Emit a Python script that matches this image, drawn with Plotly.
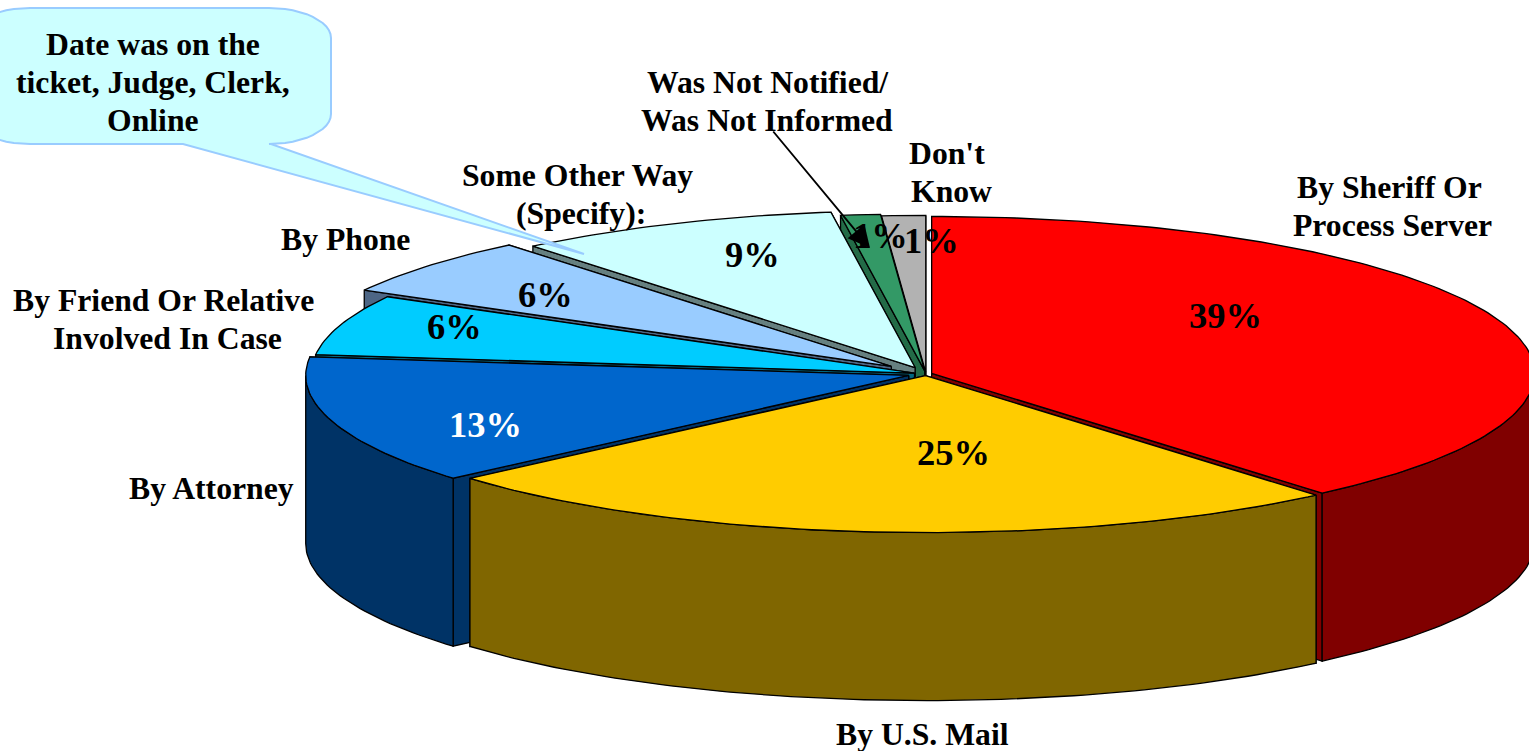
import math
import plotly.graph_objects as go

# ---- data (clockwise from 12 o'clock) ----
categories = ["By Sheriff Or Process Server", "By U.S. Mail", "By Attorney",
              "By Friend Or Relative Involved In Case", "By Phone",
              "Some Other Way (Specify):", "Was Not Notified/Was Not Informed", "Don't Know"]
shares = [38.8, 24.85, 13.25, 6.2, 6.0, 8.7, 1.06, 1.17]

# ---- styles ----
top_colors = ["#FF0000", "#FFCC00", "#0066CC", "#00CCFF", "#99CCFF", "#CCFFFF", "#339966", "#B2B2B2"]
wall_colors = ["#800000", "#806600", "#003366", "#006680", "#4D6685", "#668080", "#236B47", "#595959"]
explode = [0.01, 0.01, 0.03, 0.02, 0.075, 0.045, 0.02, 0.01]
pct_colors = ["black", "black", "white", "black", "black", "black", "black", "black"]
pct_pos = [(1225, 315), (953, 452), (485, 424), (454, 326), (545, 294), (752, 254), (880, 235), (931, 240)]

label_lines = [
    ("By Sheriff Or", 1389, 187), ("Process Server", 1392, 225),
    ("By U.S. Mail", 922, 734),
    ("By Attorney", 211, 488),
    ("By Friend Or Relative", 163, 300), ("Involved In Case", 167, 338),
    ("By Phone", 345, 239),
    ("Some Other Way", 577, 175), ("(Specify):", 581, 213),
    ("Was Not Notified/", 768, 82), ("Was Not Informed", 767, 120),
    ("Don't", 947, 153), ("Know", 951, 191),
]
callout_lines = [("Date was on the", 153, 44), ("ticket, Judge, Clerk,", 153, 82), ("Online", 153, 120)]

CX, CY, RX, RY, DEPTH = 926, 374, 603, 157, 168
FONT = "Liberation Serif"
LBL = 31.7
PCT = 36.5
EDGE = 1.3

total = sum(shares)
fig = go.Figure()


def poly(xs, ys, fill, line="black", width=EDGE):
    fig.add_trace(go.Scatter(x=xs, y=ys, mode="lines", fill="toself", fillcolor=fill,
                             line=dict(color=line, width=width), hoverinfo="skip", showlegend=False))


def pt(ax, ay, deg):
    r = math.radians(deg)
    return ax + RX * math.sin(r), ay - RY * math.cos(r)


slices = []
acc = 0.0
for i, v in enumerate(shares):
    a0 = acc / total * 360
    acc += v
    a1 = acc / total * 360
    mid = math.radians((a0 + a1) / 2)
    ax = CX + explode[i] * RX * math.sin(mid)
    ay = CY - explode[i] * RY * math.cos(mid)
    slices.append((i, a0, a1, ax, ay, math.cos(mid)))

# painter's order, back to front
for i, a0, a1, ax, ay, c in sorted(slices, key=lambda s: -s[5]):
    wall, top = wall_colors[i], top_colors[i]
    faces = sorted([a0, a1], key=lambda d: pt(ax, ay, d)[1])
    for d in faces:
        ex, ey = pt(ax, ay, d)
        poly([ax, ex, ex, ax, ax], [ay, ey, ey + DEPTH, ay + DEPTH, ay], wall)
    lo, hi = max(a0, 90), min(a1, 270)
    if hi > lo:
        n = max(2, int(hi - lo))
        arc = [lo + (hi - lo) * k / n for k in range(n + 1)]
        up = [pt(ax, ay, d) for d in arc]
        xs = [p[0] for p in up] + [p[0] for p in reversed(up)] + [up[0][0]]
        ys = [p[1] for p in up] + [p[1] + DEPTH for p in reversed(up)] + [up[0][1]]
        poly(xs, ys, wall)
    n = max(2, int(a1 - a0))
    arc = [pt(ax, ay, a0 + (a1 - a0) * k / n) for k in range(n + 1)]
    poly([ax] + [p[0] for p in arc] + [ax], [ay] + [p[1] for p in arc] + [ay], top)

# callout with its tail, clipped by the left page edge
L, R, T, B = -32, 331, 8, 144
cr_x, cr_y = 62, 30
xs, ys = [], []


def corner(cx, cy, start):
    for k in range(13):
        t = math.radians(start + 90 * k / 12)
        xs.append(cx + cr_x * math.cos(t))
        ys.append(cy + cr_y * math.sin(t))


corner(L + cr_x, T + cr_y, 180)
corner(R - cr_x, T + cr_y, 270)
corner(R - cr_x, B - cr_y, 0)
xs += [271, 584, 183]
ys += [144, 254, 144]
corner(L + cr_x, B - cr_y, 90)
xs.append(xs[0]); ys.append(ys[0])
poly(xs, ys, "#CCFFFF", line="#99CCFF", width=2)

ann = []
for txt, x, y in label_lines + callout_lines:
    ann.append(dict(x=x, y=y, text=f"<b>{txt}</b>", showarrow=False, xanchor="center", yanchor="middle",
                    font=dict(family=FONT, size=LBL, color="black")))
for v, (x, y), col in zip(shares, pct_pos, pct_colors):
    ann.append(dict(x=x, y=y, text=f"<b>{round(v)}%</b>", showarrow=False, xanchor="center", yanchor="middle",
                    font=dict(family=FONT, size=PCT, color=col)))
# leader arrow for "Was Not Informed"
ann.append(dict(x=870, y=248, ax=772, ay=130, xref="x", yref="y", axref="x", ayref="y", text="",
                showarrow=True, arrowhead=2, arrowsize=2.3, arrowwidth=1.9, arrowcolor="black"))

fig.update_layout(
    width=1529, height=751, margin=dict(l=0, r=0, t=0, b=0),
    paper_bgcolor="white", plot_bgcolor="white", showlegend=False,
    xaxis=dict(range=[0, 1529], visible=False, fixedrange=True),
    yaxis=dict(range=[751, 0], visible=False, fixedrange=True),
    annotations=ann,
)
fig.write_html("out.html", config={"displayModeBar": False},
               post_script="document.body.style.margin='0';document.body.style.overflow='hidden';")
